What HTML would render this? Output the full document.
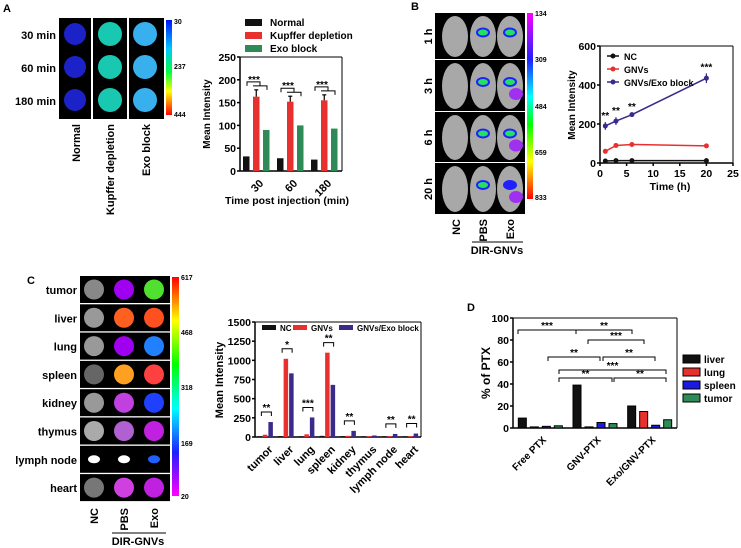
<!DOCTYPE html>
<html><head><meta charset="utf-8"><style>
body{margin:0;background:#fff;width:741px;height:548px;overflow:hidden}
svg{display:block;font-family:"Liberation Sans",Arial,sans-serif}
text{font-weight:bold}
</style></head><body>
<svg id="s" width="741" height="548" viewBox="0 0 741 548">
<defs>
<linearGradient id="gA" x1="0" y1="0" x2="0" y2="1"><stop offset="0" stop-color="#0010ff"/><stop offset=".3" stop-color="#00c8ff"/><stop offset=".55" stop-color="#00ff40"/><stop offset=".75" stop-color="#ffff00"/><stop offset="1" stop-color="#ff0000"/></linearGradient>
<linearGradient id="gB" x1="0" y1="0" x2="0" y2="1"><stop offset="0" stop-color="#ff00ff"/><stop offset=".25" stop-color="#2020ff"/><stop offset=".45" stop-color="#00ffff"/><stop offset=".6" stop-color="#00ff00"/><stop offset=".8" stop-color="#ffff00"/><stop offset="1" stop-color="#ff0000"/></linearGradient>
<linearGradient id="gC" x1="0" y1="0" x2="0" y2="1"><stop offset="0" stop-color="#ff0000"/><stop offset=".2" stop-color="#ffff00"/><stop offset=".4" stop-color="#00ff00"/><stop offset=".6" stop-color="#00ffff"/><stop offset=".8" stop-color="#2020ff"/><stop offset="1" stop-color="#ff00ff"/></linearGradient>
</defs>
</svg>
<script>
// ---------- data ----------
const aCats=["30","60","180"];
const aNormal=[32,28,25];
const aKupffer=[163,152,155];
const aKupfferErr=[15,12,12];
const aExo=[90,100,93];
const aTicks=[0,50,100,150,200,250];

const bTime=[1,3,6,20];
const bNC=[10,12,12,12];
const bGNV=[60,90,95,88];
const bExo=[190,215,248,435];
const bExoErr=[20,20,8,25];
const bYTicks=[0,200,400,600];
const bXTicks=[0,5,10,15,20,25];

const cCats=["tumor","liver","lung","spleen","kidney","thymus","lymph node","heart"];
const cNC=[10,12,10,15,12,10,10,10];
const cGNV=[30,1020,35,1100,15,10,10,10];
const cExo=[195,830,255,680,80,20,40,45];
const cTicks=[0,250,500,750,1000,1250,1500];

const dCats=["Free PTX","GNV-PTX","Exo/GNV-PTX"];
const dLiver=[9,39,20];
const dLung=[1,1,15];
const dSpleen=[1.5,5,2.5];
const dTumor=[2,4,7.5];
const dTicks=[0,20,40,60,80,100];

const S=document.getElementById('s');
const NS="http://www.w3.org/2000/svg";
function el(t,a,txt){const e=document.createElementNS(NS,t);for(const k in a)e.setAttribute(k,a[k]);if(txt!==undefined)e.textContent=txt;S.appendChild(e);return e;}
function T(x,y,s,sz,anchor,rot,name,fill){const a={x:x,y:y,'font-size':sz,'text-anchor':anchor||'start',fill:fill||'#000'};if(rot)a.transform=`rotate(${rot} ${x} ${y})`;const e=el('text',a,s);return e;}
function R(x,y,w,h,f,name,st){const e=el('rect',{x:x,y:y,width:w,height:h,fill:f,stroke:st||'none'});return e;}
function L(x1,y1,x2,y2,c,w,name){const e=el('line',{x1:x1,y1:y1,x2:x2,y2:y2,stroke:c||'#000','stroke-width':w||1});return e;}
function P(d,c,w,name,fill){const e=el('path',{d:d,stroke:c||'#000','stroke-width':w||1,fill:fill||'none'});return e;}
function bracket(x1,x2,y,stars){P(`M${x1} ${y+4}V${y}H${x2}V${y+4}`,'#000',1,'significance-bracket');T((x1+x2)/2,y-1,stars,10,'middle',0,'significance-stars');}
function yaxis(x0,y0,y1,ticks,max,name){L(x0,y0,x0,y1,'#000',1.5,name+'-y-axis');ticks.forEach(t=>{const y=y0-(t/max)*(y0-y1);L(x0-3,y,x0,y,'#000',1.5,'y-tick');T(x0-4,y+4,String(t),10.5,'end',0,'y-tick-label');});}

// ---------- panel A ----------
T(3,12,"A",11,'start',0,'panel-a-letter');
R(59,18,32,101,'#000','image-normal');R(93,18,34,101,'#000','image-kupffer');R(129,18,35,101,'#000','image-exo');
[34,67,100].forEach((y,i)=>{
 el('circle',{cx:75,cy:y,r:11,fill:'#1a22c8'});
 el('circle',{cx:110,cy:y,r:12,fill:'#19c8b0'});
 el('circle',{cx:145,cy:y,r:12,fill:'#38b0ee'});
 T(56,y+5,["30 min","60 min","180 min"][i],11,'end',0,'time-row-label');
});
R(166,20,6,95,'url(#gA)','colorbar-a');
T(174,24,"30",7,'start',0,'colorbar-tick');T(174,69,"237",7,'start',0,'colorbar-tick');T(174,117,"444",7,'start',0,'colorbar-tick');
T(80,124,"Normal",11,'end',-90,'column-label');T(114,124,"Kupffer depletion",11,'end',-90,'column-label');T(150,124,"Exo block",11,'end',-90,'column-label');
// chart A
(function(){const x0=240,x1=342,y0=171,y1=57,max=250;const Y=v=>y0-v/max*(y0-y1);
yaxis(x0,y0,y1,aTicks,max,'a');L(x0,y0,x1,y0,'#000',1.5,'a-x-axis');L(x1,y0,x1,y1,'#000',1,'a-frame');L(x0,y1,x1,y1,'#000',1,'a-frame');
const gw=(x1-x0)/3;
aCats.forEach((c,i)=>{const cx=x0+gw*(i+.5);
 const b=[[aNormal[i],'#111'],[aKupffer[i],'#e8312e'],[aExo[i],'#2e8b57']];
 b.forEach((bb,j)=>{const bx=cx-14+j*10;R(bx,Y(bb[0]),6.5,y0-Y(bb[0]),bb[1],'bar-a');});
 const kx=cx-4+3.25;L(kx,Y(aKupffer[i]+aKupfferErr[i]),kx,Y(aKupffer[i]),'#000',1.2,'error-bar');L(kx-2,Y(aKupffer[i]+aKupfferErr[i]),kx+2,Y(aKupffer[i]+aKupfferErr[i]),'#000',1.2,'error-cap');
 const by=Y(aKupffer[i]+aKupfferErr[i])-8;P(`M${cx-10} ${by+4}V${by}H${cx+3}V${by+4}M${cx-4} ${by+4}H${cx+10}V${by+8}`,'#000',1,'significance-bracket');T(cx-3,by+1,"***",10,'middle',0,'significance-stars');
 T(cx+2,y0+8,c,11,'end',-45,'x-tick-label').setAttribute('dominant-baseline','hanging');
});
T(287,204,"Time post injection (min)",10.5,'middle',0,'x-axis-title');
T(210,114,"Mean Intensity",10,'middle',-90,'y-axis-title');
[["Normal",'#111'],["Kupffer depletion",'#e8312e'],["Exo block",'#2e8b57']].forEach((l,i)=>{R(245,19+i*13,17,7,l[1],'legend-swatch');T(270,26+i*13,l[0],10,'start',0,'legend-entry');});
})();

// ---------- panel B ----------
T(411,10,"B",11,'start',0,'panel-b-letter');
const rowsB=[[13,60,"1 h"],[60,112,"3 h"],[112,163,"6 h"],[163,215,"20 h"]];
rowsB.forEach((r,i)=>{R(435,r[0],90,r[1]-r[0]-1,'#000','mouse-image-row');
 [455,483,510].forEach((mx,k)=>{el('ellipse',{cx:mx,cy:(r[0]+r[1])/2,rx:13,ry:(r[1]-r[0])/2-3,fill:'#a8a8a8'});
  if(k>0){el('ellipse',{cx:mx,cy:(r[0]+r[1])/2-4,rx:6,ry:4,fill:i==3&&k==2?'#2020ff':'#22e060',stroke:'#2020ff','stroke-width':2});}});
 if(i>=1){el('ellipse',{cx:516,cy:(r[0]+r[1])/2+8,rx:7,ry:6,fill:'#a030f0'});}
 T(432,(r[0]+r[1])/2,r[2],11,'middle',-90,'time-row-label');});
R(527,13,6,186,'url(#gB)','colorbar-b');
[["134",16],["309",62],["484",109],["659",155],["833",200]].forEach(t=>T(535,t[1],t[0],7,'start',0,'colorbar-tick'));
T(460,219,"NC",11,'end',-90,'column-label');T(487,219,"PBS",11,'end',-90,'column-label');T(514,219,"Exo",11,'end',-90,'column-label');
L(472,242,523,242,'#000',1,'group-line');T(497,254,"DIR-GNVs",11,'middle',0,'group-label');
(function(){const x0=600,x1=733,y0=163,y1=46;const X=v=>x0+v/25*(x1-x0),Y=v=>y0-v/600*(y0-y1);
yaxis(x0,y0,y1,bYTicks,600,'b');L(x0,y0,x1,y0,'#000',1.5,'b-x-axis');L(x1,y0,x1,y1,'#000',1,'b-frame');L(x0,y1,x1,y1,'#000',1,'b-frame');
bXTicks.forEach(t=>{L(X(t),y0,X(t),y0+3,'#000',1.5,'x-tick');T(X(t),y0+14,String(t),10.5,'middle',0,'x-tick-label');});
[[bNC,'#111','nc'],[bGNV,'#e8312e','gnvs'],[bExo,'#3a2a8a','gnvs-exo']].forEach(s=>{
 const p=el('polyline',{points:bTime.map((t,i)=>X(t)+','+Y(s[0][i])).join(' '),fill:'none',stroke:s[1],'stroke-width':1.5});
 bTime.forEach((t,i)=>{const c=el('circle',{cx:X(t),cy:Y(s[0][i]),r:2.5,fill:s[1]});});});
bTime.forEach((t,i)=>{L(X(t),Y(bExo[i]+bExoErr[i]),X(t),Y(bExo[i]-bExoErr[i]),'#3a2a8a',1.2,'error-bar');T(X(t),Y(bExo[i]+bExoErr[i])-3,i==3?"***":"**",10,'middle',0,'significance-stars');});
T(670,190,"Time (h)",10.5,'middle',0,'x-axis-title');T(575,105,"Mean Intensity",10,'middle',-90,'y-axis-title');
[["NC",'#111'],["GNVs",'#e8312e'],["GNVs/Exo block",'#3a2a8a']].forEach((l,i)=>{L(607,56+i*13,619,56+i*13,l[1],1.5,'legend-line');el('circle',{cx:613,cy:56+i*13,r:2.5,fill:l[1]});T(624,60+i*13,l[0],9,'start',0,'legend-entry');});
})();

// ---------- panel C ----------
T(27,284,"C",11,'start',0,'panel-c-letter');
const cCol=[['#888','#a000f0','#50e030'],['#999','#ff6020','#ff5020'],['#999','#a000f0','#2080ff'],['#666','#ffa020','#ff4040'],['#999','#c040e0','#2040ff'],['#aaa','#b060d0','#c020e0'],['#fff','#fff','#2060ff'],['#777','#d040e0','#c020e0']];
cCats.forEach((c,i)=>{const y=276+i*28.3;R(80,y,90,27,'#000','organ-image-row');
 [94,124,154].forEach((ox,k)=>{el('ellipse',{cx:ox,cy:y+13.5,rx:i==6?6:10,ry:i==6?4:10,fill:cCol[i][k]});});
 T(77,y+18,c,11,'end',0,'organ-row-label');});
R(172,277,7,219,'url(#gC)','colorbar-c');
[["617",280],["468",335],["318",390],["169",446],["20",499]].forEach(t=>T(181,t[1],t[0],7,'start',0,'colorbar-tick'));
T(98,508,"NC",11,'end',-90,'column-label');T(128,508,"PBS",11,'end',-90,'column-label');T(158,508,"Exo",11,'end',-90,'column-label');
L(112,533,166,533,'#000',1,'group-line');T(138,545,"DIR-GNVs",11,'middle',0,'group-label');
(function(){const x0=255,x1=421,y0=437,y1=322,max=1500;const Y=v=>y0-v/max*(y0-y1);
yaxis(x0,y0,y1,cTicks,max,'c');L(x0,y0,x1,y0,'#000',1.5,'c-x-axis');L(x1,y0,x1,y1,'#000',1,'c-frame');L(x0,y1,x1,y1,'#000',1,'c-frame');
const gw=(x1-x0)/8;const stars=["**","*","***","**","**","","**","**"];
cCats.forEach((c,i)=>{const cx=x0+gw*(i+.5);
 [[cNC[i],'#111'],[cGNV[i],'#e8312e'],[cExo[i],'#3a2a8a']].forEach((b,j)=>R(cx-8+j*5.5,Y(b[0]),4.5,y0-Y(b[0]),b[1],'bar-c'));
 if(stars[i]){const yy=Y(Math.max(cGNV[i],cExo[i]))-10;bracket(cx-4,cx+6,yy,stars[i]);}
 T(cx+3,y0+8,c,11,'end',-45,'x-tick-label').setAttribute('dominant-baseline','hanging');});
T(223,380,"Mean Intensity",11,'middle',-90,'y-axis-title');
[["NC",'#111',262],["GNVs",'#e8312e',293],["GNVs/Exo block",'#3a2a8a',339]].forEach(l=>{R(l[2],325,14,5,l[1],'legend-swatch');T(l[2]+18,331,l[0],8,'start',0,'legend-entry');});
})();

// ---------- panel D ----------
T(467,311,"D",11,'start',0,'panel-d-letter');
(function(){const x0=513,x1=677,y0=428,y1=318,max=100;const Y=v=>y0-v/max*(y0-y1);
yaxis(x0,y0,y1,dTicks,max,'d');L(x0,y0,x1,y0,'#000',1.5,'d-x-axis');L(x1,y0,x1,y1,'#000',1,'d-frame');L(x0,y1,x1,y1,'#000',1,'d-frame');
const gw=(x1-x0)/3;
dCats.forEach((c,i)=>{const cx=x0+gw*(i+.5);
 [[dLiver[i],'#111'],[dLung[i],'#e8312e'],[dSpleen[i],'#1a1ae0'],[dTumor[i],'#2e8b57']].forEach((b,j)=>R(cx-22+j*12,Y(b[0]),8,y0-Y(b[0]),b[1],'bar-d','#000'));
 T(cx+2,y0+8,c,10,'end',-45,'x-tick-label').setAttribute('dominant-baseline','hanging');});
bracket(518,576,330,"***");bracket(576,632,330,"**");bracket(588,644,340,"***");bracket(548,600,357,"**");bracket(603,655,357,"**");bracket(559,666,370,"***");bracket(559,612,378,"**");bracket(614,666,378,"**");
T(490,373,"% of PTX",12,'middle',-90,'y-axis-title');
[["liver",'#111'],["lung",'#e8312e'],["spleen",'#1a1ae0'],["tumor",'#2e8b57']].forEach((l,i)=>{R(683,355+i*13,17,8,l[1],'legend-swatch','#000');T(704,363+i*13,l[0],10,'start',0,'legend-entry');});
})();
</script>
</body></html>
